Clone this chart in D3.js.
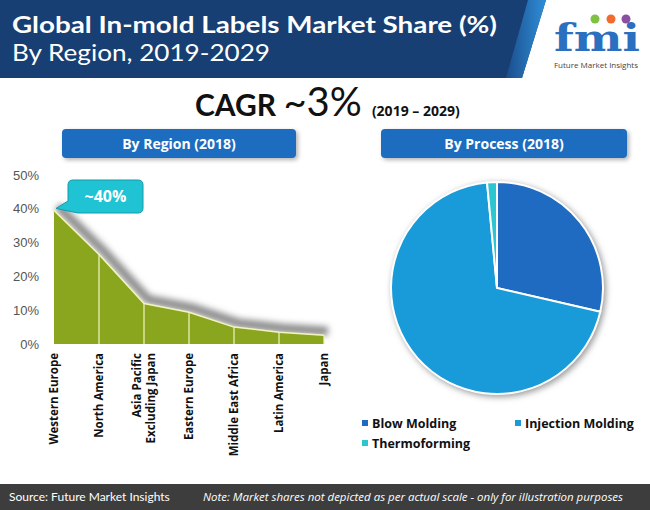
<!DOCTYPE html>
<html>
<head>
<meta charset="utf-8">
<script src="https://cdn.jsdelivr.net/npm/d3@7/dist/d3.min.js"></script>
<style>
  body { margin: 0; background: #fff; }
  svg { display: block; font-family: "Open Sans", sans-serif; }
</style>
</head>
<body>
<svg id="chart" width="650" height="510"></svg>
<script>
// data
var regions = ["Western Europe", "North America", "Asia Pacific|Excluding Japan", "Eastern Europe",
    "Middle East Africa", "Latin America", "Japan"];
var regionShare = [39.5, 26.5, 12, 9.4, 5, 3.5, 2.6];
var yTicks = [0, 10, 20, 30, 40, 50];

var processes = ["Blow Molding", "Injection Molding", "Thermoforming"];
var processShare = [28.6, 69.9, 1.5];
var processColors = ["#1f6bc2", "#1a9bd9", "#2cc6d0"];

var svg = d3.select("#chart");
var defs = svg.append("defs");

// filters
var blur = defs.append("filter").attr("id", "blur").attr("x", "-20%").attr("y", "-50%")
    .attr("width", "140%").attr("height", "200%");
blur.append("feGaussianBlur").attr("stdDeviation", 3);

var drop = defs.append("filter").attr("id", "drop").attr("x", "-10%").attr("y", "-10%")
    .attr("width", "130%").attr("height", "130%");
drop.append("feDropShadow").attr("dx", 2).attr("dy", 2).attr("stdDeviation", 2)
    .attr("flood-color", "#000").attr("flood-opacity", 0.3);

var stripe = defs.append("linearGradient").attr("id", "stripe").attr("x1", 0).attr("x2", 1);
stripe.append("stop").attr("offset", 0).attr("stop-color", "#1b4d8c");
stripe.append("stop").attr("offset", 1).attr("stop-color", "#2f8fd8");

// header band
svg.append("polygon").attr("points", "0,0 546,0 522,78 0,78").attr("fill", "#173f73");
svg.append("polygon").attr("points", "528,0 546,0 522,78 506,78").attr("fill", "url(#stripe)");

svg.append("text").attr("x", 12).attr("y", 33)
    .attr("font-family", "Lato, sans-serif").attr("font-weight", "bold").attr("font-size", 23)
    .attr("fill", "#fff").attr("textLength", 485).attr("lengthAdjust", "spacingAndGlyphs")
    .text("Global In-mold Labels Market Share (%)");
svg.append("text").attr("x", 12).attr("y", 61)
    .attr("font-family", "Lato, sans-serif").attr("font-size", 23)
    .attr("fill", "#fff").attr("textLength", 258).attr("lengthAdjust", "spacingAndGlyphs")
    .text("By Region, 2019-2029");

// logo
var logo = svg.append("g");
logo.append("text").attr("x", 597).attr("y", 51).attr("text-anchor", "middle")
    .attr("font-family", "DejaVu Serif, serif").attr("font-weight", "bold").attr("font-size", 38)
    .attr("fill", "#2b6fc0").attr("textLength", 86).attr("lengthAdjust", "spacingAndGlyphs")
    .text("fmi");
[["#7fc241", 595], ["#f26a2e", 611], ["#8a4fa0", 626]].forEach(function(d) {
    logo.append("circle").attr("cx", d[1]).attr("cy", 19).attr("r", 4.5).attr("fill", d[0]);
});
logo.append("text").attr("x", 596).attr("y", 68).attr("text-anchor", "middle")
    .attr("font-size", 8).attr("fill", "#444").text("Future Market Insights");

// CAGR line
var cagr = svg.append("text").attr("y", 116).attr("fill", "#111");
cagr.append("tspan").attr("x", 195).attr("font-family", "Lato, sans-serif").attr("font-weight", "bold")
    .attr("font-size", 30).text("CAGR ");
cagr.append("tspan").attr("font-family", "Lato, sans-serif").attr("font-size", 40).text("~3%");
cagr.append("tspan").attr("font-weight", "bold").attr("font-size", 14).attr("dx", 10).text("(2019 – 2029)");

// panel headers
function panelHead(x, w, label) {
    svg.append("rect").attr("x", x).attr("y", 129).attr("width", w).attr("height", 29).attr("rx", 4)
        .attr("fill", "#1a6cc0").attr("filter", "url(#drop)");
    svg.append("text").attr("x", x + w / 2).attr("y", 149).attr("text-anchor", "middle")
        .attr("font-weight", "bold").attr("font-size", 14).attr("fill", "#fff").text(label);
}
panelHead(62, 234, "By Region (2018)");
panelHead(381, 246, "By Process (2018)");

// region area chart
var x = d3.scalePoint().domain(regions).range([54, 324]);
var y = d3.scaleLinear().domain([0, 50]).range([344, 175]);

var yAxis = svg.append("g").attr("transform", "translate(42,0)")
    .call(d3.axisLeft(y).tickValues(yTicks).tickSize(0).tickFormat(function(d) { return d + "%"; }));
yAxis.select(".domain").remove();
yAxis.selectAll("text").attr("font-family", "Liberation Sans, sans-serif").attr("font-size", 13)
    .attr("fill", "#555").attr("dx", 0);

var pts = regions.map(function(r, i) { return [x(r), y(regionShare[i])]; });

var line = d3.line().x(function(d) { return d[0]; }).y(function(d) { return d[1]; });
svg.append("path").attr("d", line(pts)).attr("fill", "none").attr("stroke", "#8a8a8a")
    .attr("stroke-width", 9).attr("transform", "translate(4,-4)").attr("filter", "url(#blur)");

var area = d3.area()
    .x(function(d, i) { return x(regions[i]); })
    .y0(y(0))
    .y1(function(d) { return y(d); });
svg.append("path").datum(regionShare).attr("d", area).attr("fill", "#8aa51e");

svg.selectAll(".drop").data(regionShare.slice(1)).enter().append("line")
    .attr("x1", function(d, i) { return x(regions[i + 1]); })
    .attr("x2", function(d, i) { return x(regions[i + 1]); })
    .attr("y1", y(0)).attr("y2", function(d) { return y(d); })
    .attr("stroke", "#f3f3c0").attr("stroke-width", 1.2);
svg.append("path").attr("d", line(pts)).attr("fill", "none").attr("stroke", "#f3f3c0").attr("stroke-width", 1.5);

// x labels
svg.selectAll(".xl").data(regions).enter().append("text")
    .attr("transform", function(d) { return "translate(" + x(d) + ",353) rotate(-90)"; })
    .attr("text-anchor", "end").attr("font-weight", "bold").attr("font-size", 11.5).attr("fill", "#111")
    .each(function(d) {
        var parts = d.split("|");
        var t = d3.select(this);
        if (parts.length === 1) {
            t.append("tspan").attr("x", 0).attr("dy", "0.36em").text(d);
        } else {
            t.append("tspan").attr("x", 0).attr("dy", "-0.25em").text(parts[0]);
            t.append("tspan").attr("x", 0).attr("dy", "1.2em").text(parts[1]);
        }
    });

// callout
var tipX = x(regions[0]) + 2, tipY = y(regionShare[0]) - 2;
var cb = { x: 68, y: 180, w: 75, h: 33, r: 5 };
var callout = "M" + (cb.x + cb.r) + "," + cb.y +
    "H" + (cb.x + cb.w - cb.r) + "Q" + (cb.x + cb.w) + "," + cb.y + " " + (cb.x + cb.w) + "," + (cb.y + cb.r) +
    "V" + (cb.y + cb.h - cb.r) + "Q" + (cb.x + cb.w) + "," + (cb.y + cb.h) + " " + (cb.x + cb.w - cb.r) + "," + (cb.y + cb.h) +
    "H" + (cb.x + 10) + "L" + tipX + "," + tipY + "L" + cb.x + "," + (cb.y + cb.h - 12) +
    "V" + (cb.y + cb.r) + "Q" + cb.x + "," + cb.y + " " + (cb.x + cb.r) + "," + cb.y + "Z";
svg.append("path").attr("d", callout).attr("fill", "#1fc3d3").attr("stroke", "#159aa8").attr("stroke-width", 1);
svg.append("text").attr("x", cb.x + cb.w / 2).attr("y", cb.y + 22).attr("text-anchor", "middle")
    .attr("font-weight", "bold").attr("font-size", 16).attr("fill", "#fff").text("~" + 40 + "%");

// pie
var pie = d3.pie().sort(null).value(function(d) { return d; });
var arc = d3.arc().innerRadius(0).outerRadius(106);
var pg = svg.append("g").attr("transform", "translate(497,288)");
pg.append("circle").attr("r", 107).attr("fill", "#999").attr("transform", "translate(2,2)")
    .attr("filter", "url(#blur)");
pg.selectAll("path").data(pie(processShare)).enter().append("path")
    .attr("d", arc).attr("fill", function(d, i) { return processColors[i]; })
    .attr("stroke", "#fff").attr("stroke-width", 2);

// legend
var legendPos = [[362, 428], [515, 428], [362, 448]];
processes.forEach(function(p, i) {
    var g = svg.append("g").attr("transform", "translate(" + legendPos[i][0] + "," + legendPos[i][1] + ")");
    g.append("rect").attr("x", 0).attr("y", -8).attr("width", 6).attr("height", 6).attr("fill", processColors[i]);
    g.append("text").attr("x", 10).attr("y", 0).attr("font-weight", "bold").attr("font-size", 12.5)
        .attr("fill", "#111").text(p);
});

// footer
svg.append("rect").attr("x", 0).attr("y", 484).attr("width", 650).attr("height", 26).attr("fill", "#3d3d3d");
svg.append("text").attr("x", 9).attr("y", 501).attr("font-family", "Lato, sans-serif").attr("font-size", 12)
    .attr("fill", "#fff").text("Source: Future Market Insights");
svg.append("text").attr("x", 203).attr("y", 501).attr("font-style", "italic").attr("font-size", 10.5)
    .attr("fill", "#fff").attr("textLength", 420).attr("lengthAdjust", "spacingAndGlyphs")
    .text("Note: Market shares not depicted as per actual scale - only for illustration purposes");
</script>
</body>
</html>
